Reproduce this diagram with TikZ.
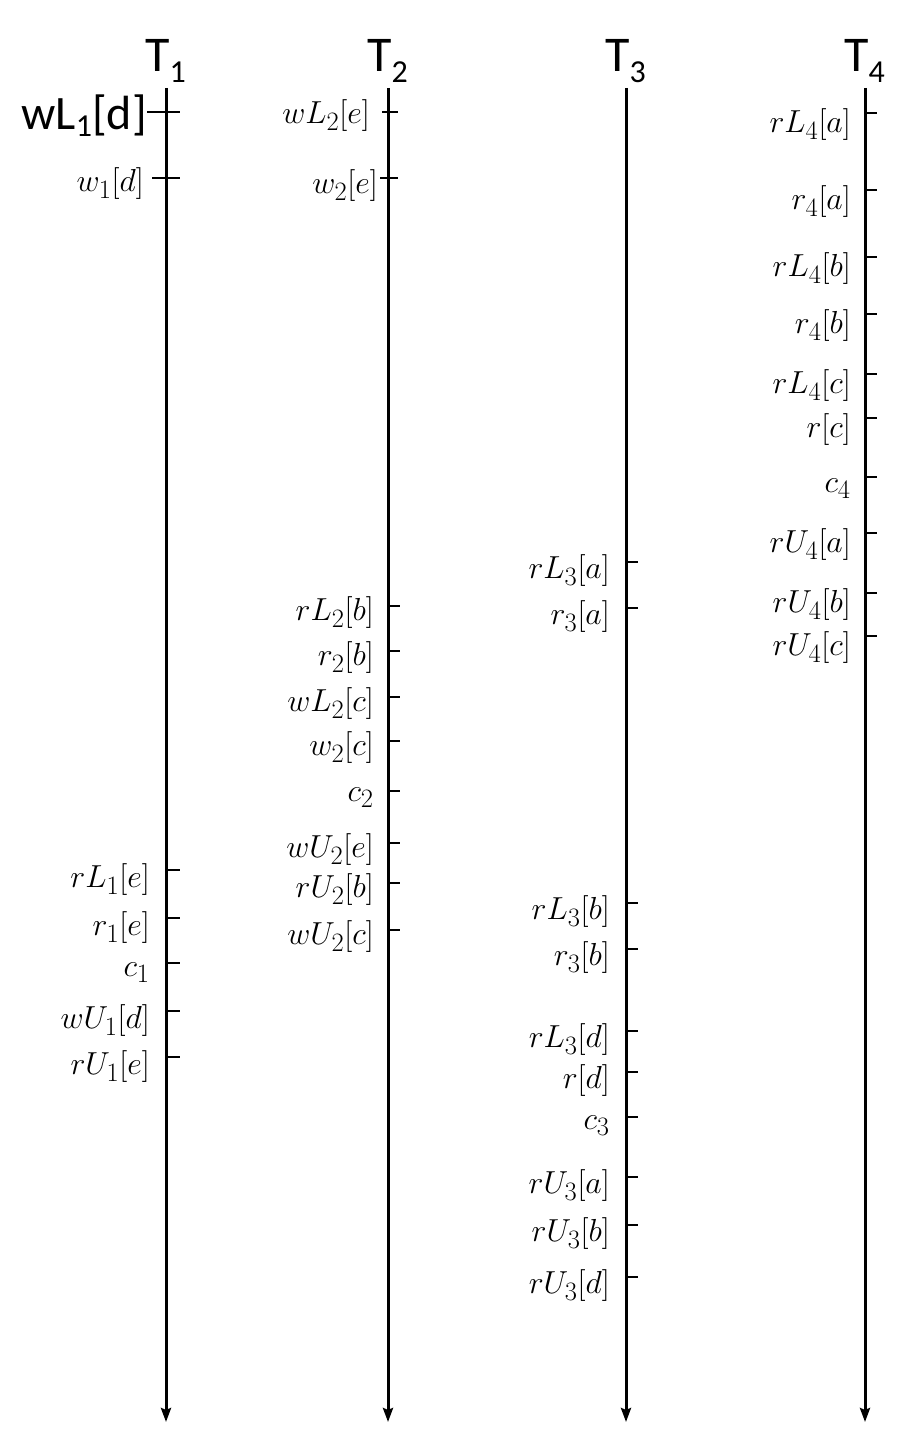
\documentclass[tikz,border=0pt]{standalone}
\usepackage{graphicx}
\usepackage{fontspec}
\setmainfont{Carlito}
\usetikzlibrary{arrows.meta,calc}
\newcommand{\tsub}[1]{\raisebox{-11pt}{\fontsize{32}{32}\selectfont #1}}
\newcommand{\wsub}[1]{\raisebox{-7pt}{\fontsize{32}{32}\selectfont #1}}
\newcommand{\hwl}[1]{\scalebox{1.28}{\fontsize{24.88}{28}\selectfont #1}}
\begin{document}
\begin{tikzpicture}[x=1pt,y=-1pt,
  timeline/.style={line width=3pt,-{Stealth[length=14pt,width=10pt,inset=2pt]}},
  tickline/.style={line width=2.2pt},
  title/.style={font=\fontsize{50}{58}\selectfont, inner sep=0pt, anchor=base west},
  hw/.style={inner sep=0pt, anchor=east}]
\useasboundingbox (0,0) rectangle (915,1442);

% time lines
\foreach \i/\x in {1/166,2/388,3/626,4/865}{
  \coordinate (top\i) at (\x,88);
  \coordinate (bot\i) at (\x,1422);
  \draw[timeline] (top\i) -- (bot\i);
  \node[title] (T\i) at (\x-21,72) {T\tsub{\i}};
}

% T1
\node[font=\fontsize{48}{56}\selectfont, inner sep=0pt, anchor=base east] (wl1d) at (147,130) {wL\wsub{1}[d]};
\coordinate (k1a) at (166,112);
\draw[tickline] ($(k1a)+(-19,0)$) -- ($(k1a)+(14,0)$);
\coordinate (k1b) at (166,178);
\draw[tickline] ($(k1b)+(-14,0)$) -- ($(k1b)+(14,0)$);
\node[hw] (l1b) at ($(k1b)+(-22,6)$) {\hwl{$w_1[d]$}};
\foreach \y/\lab in {870/{$rL_1[e]$},918/{$r_1[e]$},963/{$c_1$},1011/{$wU_1[d]$},1057/{$rU_1[e]$}}{
  \coordinate (k1-\y) at (166,\y);
  \draw[tickline] (k1-\y) -- ++(14,0);
  \node[hw] (l1-\y) at ($(k1-\y)+(-16,10)$) {\hwl{\lab}};
}

% T2
\coordinate (k2a) at (388,112);
\draw[tickline] ($(k2a)+(-6,0)$) -- ($(k2a)+(10,0)$);
\node[hw] (l2a) at ($(k2a)+(-18,4)$) {\hwl{$wL_2[e]$}};
\coordinate (k2b) at (388,178);
\draw[tickline] ($(k2b)+(-8,0)$) -- ($(k2b)+(10,0)$);
\node[hw] (l2b) at ($(k2b)+(-10,8)$) {\hwl{$w_2[e]$}};
\foreach \y/\lab in {606/{$rL_2[b]$},651/{$r_2[b]$},697/{$wL_2[c]$},741/{$w_2[c]$},791/{$c_2$},843/{$wU_2[e]$},883/{$rU_2[b]$},930/{$wU_2[c]$}}{
  \coordinate (k2-\y) at (388,\y);
  \draw[tickline] (k2-\y) -- ++(12,0);
  \node[hw] (l2-\y) at ($(k2-\y)+(-14,7)$) {\hwl{\lab}};
}

% T3
\foreach \y/\lab in {562/{$rL_3[a]$},608/{$r_3[a]$},903/{$rL_3[b]$},949/{$r_3[b]$},1031/{$rL_3[d]$},1072/{$r[d]$},1117/{$c_3$},1177/{$rU_3[a]$},1225/{$rU_3[b]$},1277/{$rU_3[d]$}}{
  \coordinate (k3-\y) at (626,\y);
  \draw[tickline] (k3-\y) -- ++(12,0);
  \node[hw] (l3-\y) at ($(k3-\y)+(-16,9)$) {\hwl{\lab}};
}

% T4
\foreach \y/\lab in {113/{$rL_4[a]$},190/{$r_4[a]$},257/{$rL_4[b]$},314/{$r_4[b]$},374/{$rL_4[c]$},418/{$r[c]$},477/{$c_4$},533/{$rU_4[a]$},593/{$rU_4[b]$},636/{$rU_4[c]$}}{
  \coordinate (k4-\y) at (865,\y);
  \draw[tickline] (k4-\y) -- ++(12,0);
  \node[hw] (l4-\y) at ($(k4-\y)+(-14,12)$) {\hwl{\lab}};
}
\end{tikzpicture}
\end{document}
